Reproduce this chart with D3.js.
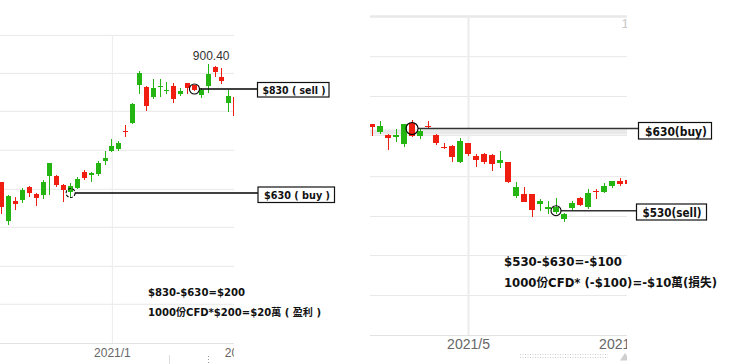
<!DOCTYPE html>
<html>
<head>
<meta charset="utf-8">
<script src="https://cdnjs.cloudflare.com/ajax/libs/d3/7.8.5/d3.min.js"></script>
<style>
  html, body { margin: 0; padding: 0; background: #fff; }
  svg { display: block; }
</style>
</head>
<body>
<script>
// left chart (profit case): daily candles, buy 630 -> sell 830
var leftOpen  = [651.7, 576.7, 615.2, 616.5, 641.5, 628.7, 626.7, 663.3, 662.7, 646, 631.9, 640.2, 670.4, 664, 666.5, 691.5, 711.3, 714.6, 749.2, 764, 837.7, 833.3, 815.2, 834.4, 826.1, 835.8, 821, 841.5, 837.1, 817.9, 835.8, 872.9, 853.6, 803.6, 815.2];
var leftHigh  = [652, 626.2, 621.7, 639, 643.5, 630.6, 655, 688, 664, 646.5, 648.7, 661.3, 674.2, 671, 691.5, 710.2, 733.8, 730.6, 760.8, 802.5, 864.6, 835.8, 849.2, 849.2, 843.5, 841, 831.3, 842, 838.6, 831.3, 878.1, 874.2, 870.4, 828.1, 816];
var leftLow   = [589, 568.5, 597.3, 610.2, 622.9, 605, 617.9, 626.7, 642.1, 613.3, 622.9, 637.1, 655, 650.6, 663.3, 683.8, 709.4, 711.3, 738.3, 762.7, 820.4, 788.3, 810.8, 815.2, 820.4, 803.6, 816.5, 820.4, 826.1, 812.1, 821.7, 852.5, 839.6, 786.3, 775];
var leftClose = [603.7, 624.2, 609.4, 635.8, 630.6, 621, 651.2, 687.7, 645.4, 635.8, 643.5, 656.9, 659.4, 667.9, 688.3, 697.9, 721, 726.2, 746.7, 801.1, 860.2, 797.9, 831.9, 836.3, 828.6, 811.3, 826.1, 832.5, 827.5, 828.1, 858.8, 863.3, 846, 817.1, 778.6];
var leftGrid = [934, 861, 788, 713, 638, 565, 490, 417];
var leftTickAt = [16, 35];
var leftTickLabels = ["2021/1", "2021/2"];
var leftMaxLabel = "900.40";
var leftTrades = [{i: 10, price: 630, label: "$630 ( buy )"}, {i: 28, price: 830, label: "$830 ( sell )"}];
var leftNotes = ["$830-$630=$200", "1000份CFD*$200=$20萬 ( 盈利 )"];

// right chart (loss case): buy 630 -> sell 530
var rightOpen  = [635.5, 626.1, 622.1, 619.7, 611.1, 636.7, 620.9, 633.4, 622.1, 607.9, 608.7, 588.9, 612, 596.5, 598.6, 597.8, 588.4, 589.2, 547.9, 550.3, 550.3, 538.2, 531.7, 528.1, 519.5, 532.9, 545.5, 534.1, 554.3, 552.8, 560.4, 566.5, 567.3];
var rightHigh  = [635.5, 638.8, 623.7, 628.8, 636, 640.9, 630.6, 638.8, 623.3, 612.7, 609.9, 618.1, 612.7, 599, 599.8, 598.6, 602.6, 589.2, 564.6, 559.2, 550.3, 544.2, 542.2, 545.1, 526.8, 541.4, 546.3, 556.8, 556, 564.1, 566.5, 569.4, 569.8];
var rightLow   = [621.2, 623.7, 603.8, 613.6, 607.5, 619.1, 617.2, 628.8, 609.9, 604.7, 589.6, 588.4, 596.5, 582.8, 586.8, 578.3, 581.6, 564.1, 545.5, 540.2, 522.7, 530, 526, 526, 515.9, 530.9, 535.7, 532.1, 544.2, 551.2, 557.3, 560.4, 561.3];
var rightClose = [632.2, 632.7, 618.1, 621.5, 635.5, 620.5, 627, 632.1, 612, 606.3, 595, 614.8, 599, 591.7, 589.6, 586.8, 591.7, 565.3, 558.5, 540.6, 530.9, 542.2, 534.1, 534.9, 525.6, 539.7, 536.6, 551.2, 553.1, 560, 566.5, 562.5, 562.1];
var rightGrid = [767, 718, 669.5, 622, 572, 523.5, 476, 427.5];
var rightTickAt = [12, 31];
var rightTickLabels = ["2021/5", "2021/6"];
var rightTrades = [{i: 5, price: 630, label: "$630(buy)"}, {i: 23, price: 530, label: "$530(sell)"}];
var rightNotes = ["$530-$630=-$100", "1000份CFD* (-$100)=-$10萬(損失)"];

var W = 740, H = 364;
var green = "#25b512", red = "#f01e10";
var boldFont = "'DejaVu Sans', 'Noto Sans CJK TC', sans-serif";
var axisFont = "'Liberation Sans', Arial, sans-serif";

var svg = d3.select("body").append("svg").attr("width", W).attr("height", H);
svg.append("rect").attr("width", W).attr("height", H).attr("fill", "#fff");
var defs = svg.append("defs");

function drawPanel(p) {
  var n = p.open.length;
  var x = d3.scaleLinear().domain([0, n - 1]).range([p.first, p.first + p.step * (n - 1)]);
  var y = d3.scaleLinear().domain(p.priceRef).range(p.pixelRef);

  defs.append("clipPath").attr("id", p.id).append("rect")
    .attr("x", p.left).attr("y", 0).attr("width", p.right - p.left).attr("height", H);
  var g = svg.append("g").attr("clip-path", "url(#" + p.id + ")");

  // horizontal grid
  var gy = g.append("g")
    .attr("transform", "translate(" + p.left + ",0)")
    .call(d3.axisLeft(y).tickValues(p.grid).tickSize(-(p.right - p.left)).tickFormat(""));
  gy.select(".domain").remove();
  gy.selectAll("line").attr("stroke", "#e8e8e8")
    .attr("stroke-width", function(d, i) { return i == 0 ? p.topGridW : 1; });

  // month ticks + vertical gridline (only the first month gets a gridline)
  var gx = g.append("g")
    .attr("transform", "translate(0," + p.bottom + ")")
    .call(d3.axisBottom(x).tickValues(p.tickAt)
      .tickFormat(function(d, i) { return p.tickLabels[i]; })
      .tickSizeInner(-(p.bottom - p.top)).tickSizeOuter(0).tickPadding(p.tickPad));
  gx.select(".domain").remove();
  gx.selectAll("line").attr("stroke", "#ececec").attr("stroke-width", p.vGridW)
    .attr("visibility", function(d, i) { return i == 0 ? null : "hidden"; });
  gx.selectAll("text").attr("fill", "#666").style("font-family", axisFont).style("font-size", p.tickSize + "px");

  g.append("line")
    .attr("x1", p.left).attr("x2", p.right)
    .attr("y1", p.bottom + 0.5).attr("y2", p.bottom + 0.5)
    .attr("stroke", "#e2e2e2");

  if (p.band) {
    g.append("rect").attr("x", p.left).attr("width", p.right - p.left)
      .attr("y", p.band[0]).attr("height", p.band[1]).attr("fill", "#e9e9e9");
  }

  // candles
  var c = g.append("g").attr("shape-rendering", "crispEdges");
  var colour = function(i) { return p.close[i] >= p.open[i] ? green : red; };
  c.selectAll("line.wick").data(d3.range(n)).join("line")
    .attr("class", "wick")
    .attr("x1", function(i) { return x(i); }).attr("x2", function(i) { return x(i); })
    .attr("y1", function(i) { return y(p.high[i]); })
    .attr("y2", function(i) { return y(p.low[i]); })
    .attr("stroke", colour);
  c.selectAll("rect.body").data(d3.range(n)).join("rect")
    .attr("class", "body")
    .attr("x", function(i) { return x(i) - p.bodyW / 2; })
    .attr("y", function(i) { return y(Math.max(p.open[i], p.close[i])); })
    .attr("width", p.bodyW)
    .attr("height", function(i) { return Math.max(1.2, Math.abs(y(p.open[i]) - y(p.close[i]))); })
    .attr("fill", colour);

  return {x: x, y: y, g: g};
}

function callout(pan, t, o) {
  var cx = pan.x(t.i), cy = pan.y(t.price);
  svg.append("line")
    .attr("x1", cx + o.r).attr("x2", o.boxX).attr("y1", cy).attr("y2", cy)
    .attr("stroke", o.lineColor).attr("stroke-width", 1.4);
  svg.append("circle")
    .attr("cx", cx).attr("cy", cy).attr("r", o.r)
    .attr("fill", "none").attr("stroke", "#000").attr("stroke-width", 1.1)
    .attr("stroke-dasharray", o.dash || null);
  svg.append("rect")
    .attr("x", o.boxX).attr("y", cy + o.boxDy).attr("width", o.boxW).attr("height", o.boxH)
    .attr("fill", "#fff").attr("stroke", "#111").attr("stroke-width", 1.2);
  svg.append("text")
    .attr("x", o.textX).attr("y", cy + o.textDy)
    .attr("textLength", o.textLen).attr("lengthAdjust", "spacingAndGlyphs")
    .style("font-family", boldFont).style("font-weight", "bold").style("font-size", o.font + "px")
    .attr("fill", "#111").text(t.label);
}

function note(txt, x, y, len, size) {
  svg.append("text").attr("x", x).attr("y", y)
    .attr("textLength", len).attr("lengthAdjust", "spacingAndGlyphs")
    .style("font-family", boldFont).style("font-weight", "bold").style("font-size", size + "px")
    .attr("fill", "#111").text(txt);
}

// ---- left panel
var L = drawPanel({
  id: "clipL", left: 0, right: 234, top: 35, bottom: 343,
  open: leftOpen, high: leftHigh, low: leftLow, close: leftClose,
  first: 1.8, step: 6.88, bodyW: 5,
  priceRef: [630, 830], pixelRef: [193, 89],
  grid: leftGrid, topGridW: 1, vGridW: 1,
  tickAt: leftTickAt, tickLabels: leftTickLabels, tickPad: 5, tickSize: 12
});

var peak = d3.maxIndex(leftHigh);
svg.append("text")
  .attr("x", L.x(peak) + 3).attr("y", L.y(leftHigh[peak]) - 4)
  .attr("text-anchor", "middle").attr("fill", "#333")
  .style("font-family", axisFont).style("font-size", "12px")
  .text(leftMaxLabel);

callout(L, leftTrades[0], {r: 4.5, dash: "3,1.5", boxX: 258, boxDy: -6, boxW: 76.5, boxH: 15.5,
  textX: 264, textDy: 5.5, textLen: 66, font: 10, lineColor: "#000"});
callout(L, leftTrades[1], {r: 5, boxX: 257.5, boxDy: -6.5, boxW: 71.5, boxH: 14.5,
  textX: 262.5, textDy: 5, textLen: 63, font: 10, lineColor: "#000"});

note(leftNotes[0], 148, 295.5, 97, 10);
note(leftNotes[1], 148, 316, 173, 10);

// ---- right panel
var R = drawPanel({
  id: "clipR", left: 370, right: 627, top: 16, bottom: 335,
  open: rightOpen, high: rightHigh, low: rightLow, close: rightClose,
  first: 372, step: 8, bodyW: 6,
  priceRef: [530, 630], pixelRef: [210.7, 128.5],
  grid: rightGrid, topGridW: 2.5, vGridW: 2,
  tickAt: rightTickAt, tickLabels: rightTickLabels, tickPad: 4.5, tickSize: 14,
  band: [129.5, 5]
});

R.g.append("text").attr("x", 621.5).attr("y", 27.5)
  .attr("fill", "#c8c8c8").style("font-family", axisFont).style("font-size", "13px")
  .text("1");

callout(R, rightTrades[0], {r: 6, boxX: 638.5, boxDy: -6, boxW: 73, boxH: 16.5,
  textX: 645, textDy: 7, textLen: 62, font: 12, lineColor: "#333"});
callout(R, rightTrades[1], {r: 5, boxX: 636.5, boxDy: -6.7, boxW: 70, boxH: 16,
  textX: 642.5, textDy: 5.8, textLen: 59, font: 12, lineColor: "#333"});

note(rightNotes[0], 504, 266, 118, 12);
note(rightNotes[1], 504, 287, 213, 12);

// navigator scraps at the bottom edge
svg.append("line").attr("x1", 169.5).attr("x2", 169.5).attr("y1", 355).attr("y2", 364)
  .attr("stroke", "#dcdcdc");
svg.append("line").attr("x1", 208.5).attr("x2", 208.5).attr("y1", 356).attr("y2", 364)
  .attr("stroke", "#999").attr("stroke-dasharray", "1,2");
[354.5, 357.5].forEach(function(yy) {
  svg.append("line").attr("x1", 520).attr("x2", 608).attr("y1", yy).attr("y2", yy)
    .attr("stroke", "#d0d0d0").attr("stroke-dasharray", "1,1.5");
});
svg.append("path").attr("d", "M620,360.5L625,353L630,360.5Z").attr("fill", "#cfcfcf")
  .attr("clip-path", "url(#clipR)");
</script>
</body>
</html>
